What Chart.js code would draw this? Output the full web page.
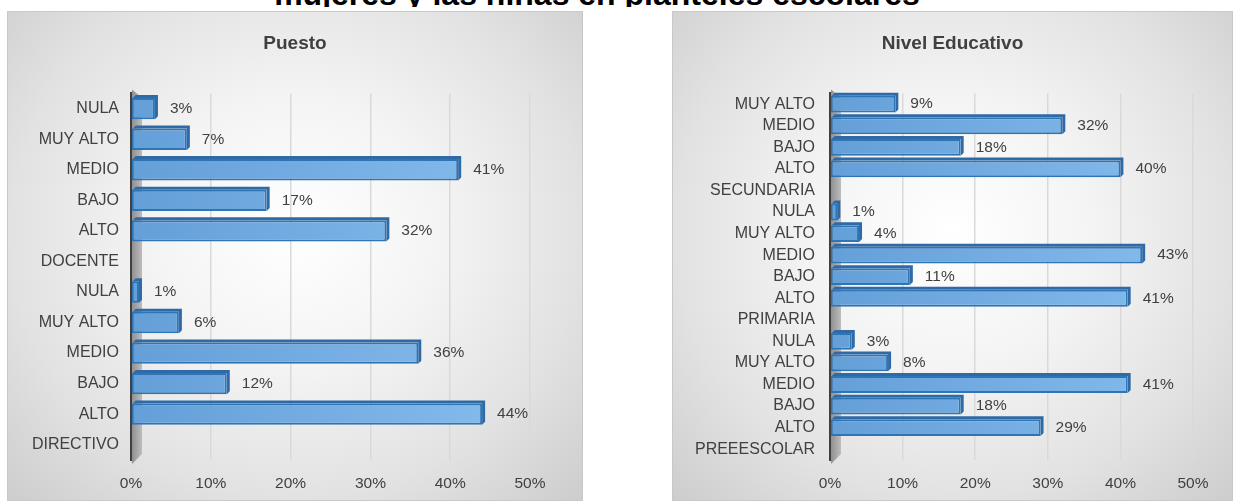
<!DOCTYPE html>
<html>
<head>
<meta charset="utf-8">
<script src="https://cdn.jsdelivr.net/npm/chart.js@4"></script>
<style>
  body { margin: 0; background: #ffffff; width: 1243px; height: 504px; overflow: hidden; position: relative; font-family: "Liberation Sans", Arial, sans-serif; }
  #mainTitle { position: absolute; left: 0; top: 0; width: 1194px; height: 7px; overflow: hidden; }
  #mainTitle span { position: absolute; left: 0; width: 1194px; top: -24px; text-align: center; font: bold 32px "Liberation Sans", Arial, sans-serif; color: #000; white-space: nowrap; }
  .panel { position: absolute; top: 11px; height: 490px; border: 1px solid #c8c8c8; box-sizing: border-box;
           background: radial-gradient(ellipse at 50% 45%, #ffffff 0%, #f4f4f4 35%, #e2e2e2 70%, #cdcdcd 100%); }
  #panelLeft { left: 7px; width: 576px; }
  #panelRight { left: 672px; width: 561px; }
  canvas { position: absolute; left: 0; top: 0; }
</style>
</head>
<body>
<div id="mainTitle"><span>mujeres y las niñas en planteles escolares</span></div>
<div class="panel" id="panelLeft"><canvas id="chartPuesto" width="574" height="488"></canvas></div>
<div class="panel" id="panelRight"><canvas id="chartNivel" width="559" height="488"></canvas></div>
<script>
// Puesto chart data (top to bottom as shown)
const puestoLabels = ['NULA', 'MUY ALTO', 'MEDIO', 'BAJO', 'ALTO', 'DOCENTE', 'NULA', 'MUY ALTO', 'MEDIO', 'BAJO', 'ALTO', 'DIRECTIVO'];
const puestoValues = [3, 7, 41, 17, 32, null, 1, 6, 36, 12, 44, null];

// Nivel Educativo chart data (top to bottom as shown)
const nivelLabels = ['MUY ALTO', 'MEDIO', 'BAJO', 'ALTO', 'SECUNDARIA', 'NULA', 'MUY ALTO', 'MEDIO', 'BAJO', 'ALTO', 'PRIMARIA', 'NULA', 'MUY ALTO', 'MEDIO', 'BAJO', 'ALTO', 'PREEESCOLAR'];
const nivelValues = [9, 32, 18, 40, null, 1, 4, 43, 11, 41, null, 3, 8, 41, 18, 29, null];

// x axis ticks
const percentMax = 50;
const percentStep = 10;

const textColor = '#404040';
const fontFamily = '"Liberation Sans", Arial, sans-serif';

// draws the gray wall beside the axis and a little depth on every bar
const depthPlugin = {
    id: 'depth',
    beforeDatasetsDraw(chart) {
        const ctx = chart.ctx;
        const area = chart.chartArea;
        const g = ctx.createLinearGradient(area.left, 0, area.left + 11, 0);
        g.addColorStop(0, '#8c8c8c');
        g.addColorStop(1, '#bdbdbd');
        ctx.save();
        ctx.fillStyle = g;
        ctx.beginPath();
        ctx.moveTo(area.left + 1, area.top - 4);
        ctx.lineTo(area.left + 11, area.top + 4);
        ctx.lineTo(area.left + 11, area.bottom - 6);
        ctx.lineTo(area.left + 1, area.bottom + 4);
        ctx.closePath();
        ctx.fill();

        const d = 3;
        chart.getDatasetMeta(0).data.forEach(function (bar, i) {
            if (chart.data.datasets[0].data[i] === null) return;
            const x0 = bar.base, x1 = bar.x;
            const top = bar.y - bar.height / 2, bottom = bar.y + bar.height / 2;
            ctx.fillStyle = '#2f6aa6';
            ctx.beginPath();
            ctx.moveTo(x0 + 1, top);
            ctx.lineTo(x0 + 1 + d, top - d);
            ctx.lineTo(x1 + d, top - d);
            ctx.lineTo(x1 + d, bottom - d);
            ctx.lineTo(x1, bottom);
            ctx.lineTo(x1, top);
            ctx.closePath();
            ctx.fill();
        });
        ctx.restore();
    }
};

// value labels at the end of each bar
const valueLabelPlugin = {
    id: 'valueLabels',
    afterDatasetsDraw(chart) {
        const ctx = chart.ctx;
        const values = chart.data.datasets[0].data;
        ctx.save();
        ctx.font = '15.5px ' + fontFamily;
        ctx.fillStyle = textColor;
        ctx.textBaseline = 'middle';
        ctx.textAlign = 'left';
        chart.getDatasetMeta(0).data.forEach(function (bar, i) {
            if (values[i] === null) return;
            ctx.fillText(values[i] + '%', bar.x + 15, bar.y);
        });
        ctx.restore();
    }
};

function makeChart(canvasId, title, labels, values, yWidth, rightWidth, labelPad, barPct) {
    const ctx = document.getElementById(canvasId);
    return new Chart(ctx, {
        type: 'bar',
        data: {
            labels: labels,
            datasets: [{
                data: values,
                backgroundColor: function (context) {
                    const area = context.chart.chartArea;
                    if (!area) return '#6ea6dd';
                    const g = context.chart.ctx.createLinearGradient(area.left, 0, area.right, 0);
                    g.addColorStop(0, '#659fd8');
                    g.addColorStop(1, '#86bdee');
                    return g;
                },
                borderColor: '#2e75b6',
                borderWidth: 2,
                borderSkipped: false,
                barPercentage: barPct,
                categoryPercentage: 1
            }]
        },
        options: {
            indexAxis: 'y',
            responsive: false,
            animation: false,
            layout: { padding: 0 },
            scales: {
                x: {
                    min: 0,
                    max: percentMax,
                    ticks: {
                        stepSize: percentStep,
                        padding: 14,
                        color: textColor,
                        font: { size: 15.5, family: fontFamily },
                        callback: function (v) { return v + '%'; }
                    },
                    grid: { color: '#d9d9d9', lineWidth: 1.5, drawTicks: false },
                    border: { display: false },
                    afterFit: function (scale) { scale.height = 40; }
                },
                y: {
                    ticks: {
                        padding: labelPad,
                        color: textColor,
                        autoSkip: false,
                        font: { size: 16, family: fontFamily }
                    },
                    grid: { display: false, drawTicks: false },
                    border: { display: true, color: '#404040', width: 3 },
                    afterFit: function (scale) { scale.width = yWidth; }
                },
                // empty axis on the right, only to leave room there while the title stays centred
                yRight: {
                    type: 'linear',
                    position: 'right',
                    ticks: { display: false },
                    grid: { display: false, drawTicks: false },
                    border: { display: false },
                    afterFit: function (scale) { scale.width = rightWidth; }
                }
            },
            plugins: {
                legend: { display: false },
                tooltip: { enabled: false },
                title: {
                    display: true,
                    text: title,
                    color: textColor,
                    font: { size: 19, weight: 'bold', family: fontFamily },
                    padding: { top: 20.6, bottom: 38 }
                }
            }
        },
        plugins: [depthPlugin, valueLabelPlugin]
    });
}

makeChart('chartPuesto', 'Puesto', puestoLabels, puestoValues, 123, 52, 12, 0.7);
makeChart('chartNivel', 'Nivel Educativo', nivelLabels, nivelValues, 157, 39, 15, 0.78);
</script>
</body>
</html>
